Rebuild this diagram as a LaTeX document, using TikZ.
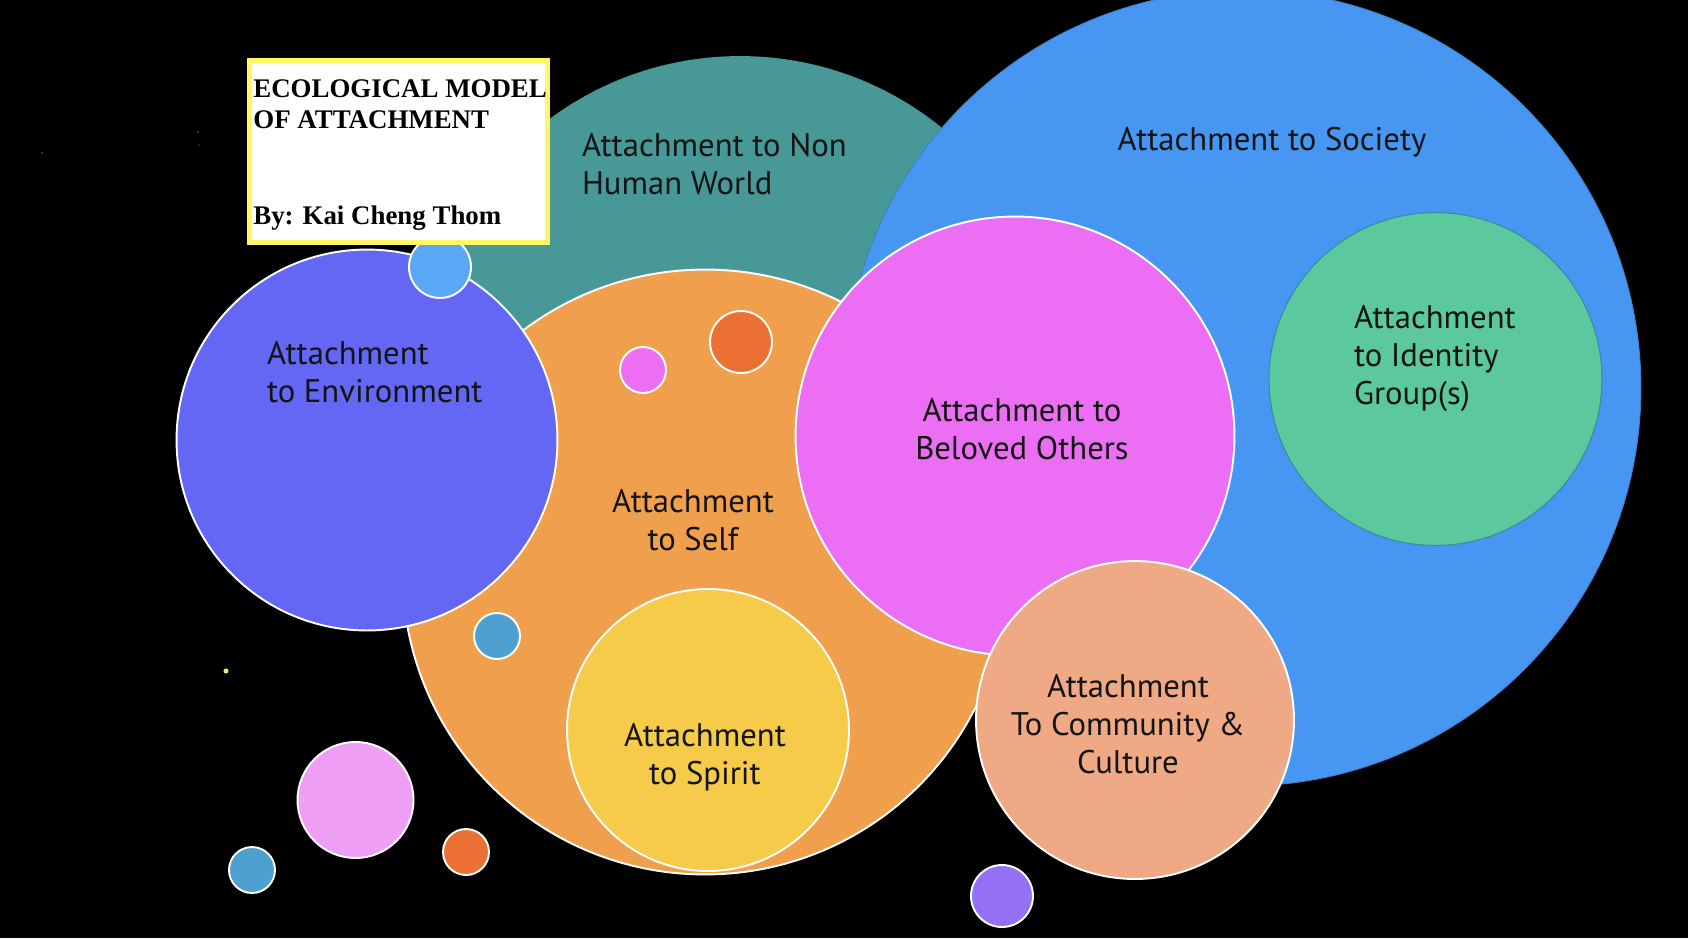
\documentclass[tikz,border=0pt]{standalone}
\usepackage{fontspec}
\setmainfont{Liberation Serif}
\newfontfamily\dinfont{PT Sans}
\definecolor{bg}{RGB}{0,0,0}
\definecolor{cteal}{RGB}{72,152,152}
\definecolor{csociety}{RGB}{70,150,242}
\definecolor{csocietyedge}{RGB}{60,130,200}
\definecolor{cident}{RGB}{92,200,158}
\definecolor{cidentedge}{RGB}{55,140,160}
\definecolor{cself}{RGB}{240,160,76}
\definecolor{cenv}{RGB}{99,103,243}
\definecolor{cbeloved}{RGB}{236,110,244}
\definecolor{cspirit}{RGB}{246,203,74}
\definecolor{ccomm}{RGB}{239,169,133}
\definecolor{clblue}{RGB}{90,168,245}
\definecolor{cored}{RGB}{236,112,51}
\definecolor{cpink}{RGB}{238,110,242}
\definecolor{cmblue}{RGB}{77,160,208}
\definecolor{clpink}{RGB}{238,158,245}
\definecolor{cpurple}{RGB}{147,112,245}
\definecolor{cyel}{RGB}{255,248,100}
\definecolor{cdot}{RGB}{240,235,110}
\definecolor{txt}{RGB}{20,20,20}
\newcommand\lblfont{\dinfont\fontsize{18.6pt}{21.9pt}\selectfont}
\newcommand\titlefont{\bfseries\fontsize{15.3pt}{18.1pt}\selectfont}
\newcommand\mylinesc[1]{\begin{tabular}[t]{@{}c@{}}#1\end{tabular}}
\newcommand\mylinesl[1]{\begin{tabular}[t]{@{}l@{}}#1\end{tabular}}
\begin{document}
\begin{tikzpicture}[x=0.02cm,y=-0.02cm,
  blob/.style={circle,inner sep=0pt,outer sep=0pt,draw=white,line width=1.1pt},
  lbl/.style={font=\lblfont,text=txt,inner sep=0pt,outer sep=0pt},
  titlebox/.style={rectangle,inner sep=0pt,fill=white,draw=cyel,line width=2.8pt,
    minimum width=5.966cm,minimum height=3.64cm},
  titletext/.style={font=\titlefont,text=black,inner sep=0pt,anchor=base west}]
\fill[bg] (0,0) rectangle (1688,938);
\useasboundingbox (0,0) rectangle (1688,938);
% faint specks
\fill[gray!60!black] (42,153) circle[radius=1.2];
\fill[gray!60!black] (198,132) circle[radius=1];
\fill[gray!50!black] (199,145) circle[radius=0.8];
% big circles
\node[blob,fill=cteal,draw=none,minimum size=12.8cm] (nonhuman) at (740,376) {};
\node[blob,fill=csociety,draw=csocietyedge,line width=0.5pt,minimum size=15.92cm] (society) at (1243,388) {};
\node[blob,fill=cident,draw=cidentedge,line width=0.6pt,minimum size=6.66cm] (identity) at (1435.5,379) {};
\node[blob,fill=cself,minimum size=12.1cm] (self) at (705,572) {};
\node[blob,fill=cenv,minimum size=7.62cm] (env) at (367,440) {};
\node[blob,fill=clblue,minimum size=1.24cm] (sm1) at (440,267) {};
\node[blob,fill=cbeloved,minimum size=8.78cm] (beloved) at (1015,436) {};
\node[blob,fill=cspirit,minimum size=5.64cm] (spirit) at (708,730) {};
\node[blob,fill=ccomm,minimum size=6.36cm] (comm) at (1135,720) {};
% small circles
\node[blob,fill=cored,minimum size=1.24cm] (sm2) at (741,342) {};
\node[blob,fill=cpink,minimum size=0.92cm] (sm3) at (643,370) {};
\node[blob,fill=cmblue,minimum size=0.92cm] (sm4) at (497,636) {};
\node[blob,fill=clpink,minimum size=2.32cm] (sm5) at (355.5,800) {};
\node[blob,fill=cmblue,minimum size=0.92cm] (sm6) at (252,870) {};
\node[blob,fill=cored,minimum size=0.92cm] (sm7) at (466,852) {};
\node[blob,fill=cpurple,minimum size=1.24cm] (sm8) at (1002,896) {};
\node[circle,fill=cdot,inner sep=0pt,minimum size=0.1cm] (dot) at (226,671) {};
% title
\node[titlebox] (tbox) at (398.35,151.5) {};
\node[titletext] (ttext) at (253,97) {\mylinesl{ECOLOGICAL MODEL\\OF ATTACHMENT\\ \\ \\By: Kai Cheng Thom}};
% labels
\node[lbl,anchor=base west] (lnon) at (582,156) {\mylinesl{Attachment to Non\\Human World}};
\node[lbl,anchor=base] (lsoc) at (1272,150) {Attachment to Society};
\node[lbl,anchor=base west] (lenv) at (267,364) {\mylinesl{Attachment\\to Environment}};
\node[lbl,anchor=base] (lself) at (693,512) {\mylinesc{Attachment\\to Self}};
\node[lbl,anchor=base] (lbel) at (1022,421) {\mylinesc{Attachment to\\Beloved Others}};
\node[lbl,anchor=base west] (lid) at (1354,328) {\mylinesl{Attachment\\to Identity\\Group(s)}};
\node[lbl,anchor=base] (lspi) at (705,746) {\mylinesc{Attachment\\to Spirit}};
\node[lbl,anchor=base] (lcom) at (1128,697) {\mylinesc{Attachment\\To Community \&\\Culture}};
\end{tikzpicture}
\end{document}
